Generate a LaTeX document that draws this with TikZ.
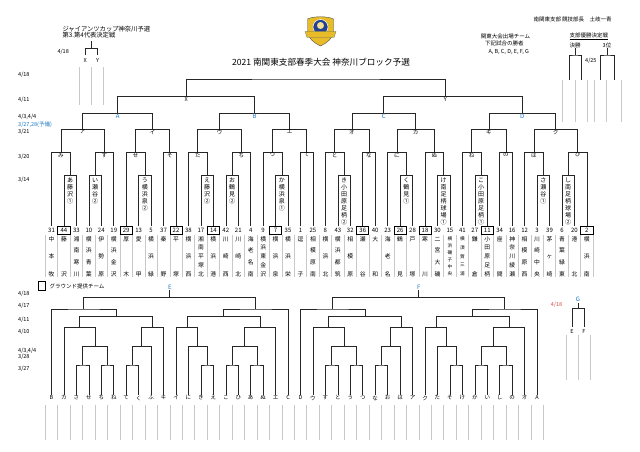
\documentclass[tikz,border=0pt]{standalone}
\usepackage{fontspec}
\setmainfont{Noto Sans CJK JP}
\usetikzlibrary{calc,positioning}

\definecolor{lblue}{RGB}{30,120,195}
\definecolor{lred}{RGB}{215,75,70}
\definecolor{sgray}{RGB}{200,200,200}
\definecolor{emgold}{RGB}{232,188,40}
\definecolor{emblue}{RGB}{35,65,145}

\newcommand\fsz[1]{\fontsize{#1}{#1}\selectfont}
% bracket: [ratio] apex, left end, right end, level
\newcommand\mt[5][.5]{%
\coordinate (#2) at ($(#3)!#1!(#4)$);
\coordinate (#2) at (#2 |- 0,#5);
\draw [brk] (#3) |- (#2) -| (#4);}

\begin{document}
\begin{tikzpicture}[x=1pt,y=-1pt]
\begin{scope}

\tikzstyle{brk} = [draw=black!85,line width=0.6pt];
\tikzstyle{sepline} = [draw=sgray,line width=0.6pt];
\tikzstyle{num} = [font=\fsz{6},inner sep=0pt];
\tikzstyle{numbox} = [draw,line width=0.8pt,minimum width=12.2pt,minimum height=8pt,inner sep=0pt];
\tikzstyle{nm} = [inner sep=0pt];
\tikzstyle{boxtxt} = [font=\fsz{6},inner sep=0pt];
\tikzstyle{kana} = [font=\fsz{5.5},inner sep=0.4pt,anchor=north];
\tikzstyle{grp} = [font=\fsz{6},inner sep=0.5pt,text=lblue];
\tikzstyle{dt} = [font=\fsz{5.5},inner sep=0pt,anchor=west];
\tikzstyle{note} = [font=\fsz{5.5},inner sep=0pt,anchor=west];

\fill [white] (0,0) rectangle (640,452);
\useasboundingbox (0,0) rectangle (640,452);

% emblem
\filldraw [fill=emgold,draw=black!70,line width=0.4pt] (307.5,19) .. controls (314,16) and (327,16) .. (333.5,19) -- (333.5,31) .. controls (333.5,38) and (327,43) .. (320.5,46) .. controls (314,43) and (307.5,38) .. (307.5,31) -- cycle;
\filldraw [fill=emblue,draw=white,line width=0.5pt] (320.5,27) circle [radius=7.5];
\fill [emgold!50!white] (320.5,25.5) circle [radius=3.5];
\filldraw [fill=emgold,draw=black!60,line width=0.3pt] (305,31.5) -- (336,31.5) -- (334,37.5) -- (307,37.5) -- cycle;

% headings
\node [font=\fsz{8.6}] (ttl) at (321,61.7) {2021 南関東支部春季大会 神奈川ブロック予選};
\node [note] (hd) at (533.3,19.3) {南関東支部 競技部長　土岐一青};
\node [note] (kt1) at (480.7,36) {関東大会出場チーム};
\node [note] (kt2) at (485,43.7) {下記試合の勝者};
\node [note] (kt3) at (488.3,52.3) {A, B, C, D, E, F, G};
\node [note] (sb) at (569.3,36.5) {\underline{支部優勝決定戦}};
\node [note,font=\fsz{6.3}] (gc1) at (62.3,29) {ジャイアンツカップ神奈川予選};
\node [note,font=\fsz{6.3}] (gc2) at (62.3,35.6) {第3.第4代表決定戦};

% dates
\node [dt] (d0) at (57.3,52.3) {4/18};
\node [dt] (d1) at (18,75) {4/18};
\node [dt] (d2) at (18,100) {4/11};
\node [dt] (d3) at (18,117.3) {4/3,4/4};
\node [dt,text=lblue] (d4) at (18,124.3) {3/27,28(予備)};
\node [dt] (d5) at (18,132.3) {3/21};
\node [dt] (d6) at (18,156.7) {3/20};
\node [dt] (d7) at (18,180) {3/14};
\node [dt] (d8) at (18,294.3) {4/18};
\node [dt] (d9) at (18,305.7) {4/17};
\node [dt] (d10) at (18,320) {4/11};
\node [dt] (d11) at (18,331.7) {4/10};
\node [dt] (d12) at (18,350.7) {4/3,4/4};
\node [dt] (d13) at (18,356.7) {3/28};
\node [dt] (d14) at (18,369.3) {3/27};

% giants cup
\coordinate (gX) at (85.3,55);
\coordinate (gY) at (97.7,55);
\mt{gJ}{gX}{gY}{48.3}
\coordinate (gJu) at (gJ |- 0,40.7);
\draw [brk] (gJ) -- (gJu);
\node [kana,below=2.5pt] (gXl) at (gX) {X};
\node [kana,below=2.5pt] (gYl) at (gY) {Y};
\foreach \x in {79.3,91.5,103.7}
  \draw [sepline] (\x,66.7) -- (\x,105);

% branch finals
\coordinate (f1) at (569.3,80);
\coordinate (f2) at (581,80);
\mt{fW}{f1}{f2}{55}
\coordinate (fWu) at (fW |- 0,48.3);
\draw [brk] (fW) -- (fWu);
\node [note,anchor=south,inner sep=0.5pt] (fWl) at (fWu) {決勝};
\coordinate (f3) at (600,80);
\coordinate (f4) at (614,80);
\mt{fT}{f3}{f4}{55}
\coordinate (fTu) at (fT |- 0,48.3);
\draw [brk] (fT) -- (fTu);
\node [note,anchor=south,inner sep=0.5pt] (fTl) at (fTu) {3位};
\node [note] (f425) at (585,61) {4/25};
\foreach \x in {562.3,575,587.7,594.3,606.7,621.7}
  \draw [sepline] (\x,80) -- (\x,121.7);

% teams
\foreach \i/\num/\bx/\n/\fs/\nm in {
  0/31/0/3/5.8/{中,本,牧}, 1/44/1/2/5.8/{藤,沢}, 2/33/0/4/5.8/{湘,南,寒,川},
  3/10/0/4/5.8/{横,浜,青,葉}, 4/24/0/3/5.8/{伊,勢,原}, 5/19/0/4/5.8/{横,浜,金,沢},
  6/29/1/2/5.8/{厚,木}, 7/13/0/2/5.8/{愛,甲}, 8/5/0/3/5.8/{横,浜,緑},
  9/37/0/2/5.8/{秦,野}, 10/22/1/2/5.8/{平,塚}, 11/38/0/3/5.8/{横,浜,西},
  12/17/0/5/5.8/{湘,南,平,塚,北}, 13/14/1/3/5.8/{横,浜,港}, 14/42/0/3/5.8/{川,崎,西},
  15/21/0/3/5.8/{川,崎,北}, 16/4/0/4/5.8/{海,老,名,南}, 17/9/0/5/5.8/{横,浜,東,金,沢},
  18/7/1/3/5.8/{横,浜,泉}, 19/35/0/3/5.8/{横,浜,栄}, 20/1/0/2/5.8/{逗,子},
  21/25/0/4/5.8/{相,模,原,南}, 22/8/0/3/5.8/{横,浜,北}, 23/43/0/4/5.8/{横,浜,都,筑},
  24/32/0/3/5.8/{相,模,原}, 25/36/1/2/5.8/{瀬,谷}, 26/40/0/2/5.8/{大,和},
  27/23/0/3/5.8/{海,老,名}, 28/26/1/2/5.8/{鶴,見}, 29/28/0/2/5.8/{戸,塚},
  30/18/1/2/5.8/{寒,川}, 31/30/0/4/5.8/{二,宮,大,磯}, 32/15/0/6/4.6/{横,浜,磯,子,中,央},
  33/41/0/5/4.6/{横,須,賀,三,浦}, 34/27/0/2/5.8/{鎌,倉}, 35/11/1/5/5.8/{小,田,原,足,柄},
  36/34/0/2/5.8/{座,間}, 37/16/0/5/5.8/{神,奈,川,綾,瀬}, 38/12/0/4/5.8/{相,模,原,西},
  39/3/0/4/5.8/{川,崎,中,央}, 40/39/0/3/5.8/{茅,ヶ,崎}, 41/6/0/4/5.8/{青,葉,緑,東},
  42/20/0/2/5.8/{港,北}, 43/2/1/3/5.8/{横,浜,南}}{
  \pgfmathsetmacro\xx{51.5+12.45*\i}
  \coordinate (p\i) at (\xx,226);
  \node [num] (t\i) at (\xx,230) {\num};
  \ifnum\bx=1 \node [numbox] (tb\i) at (t\i) {};\fi
  \foreach \ch [count=\kk] in \nm {
    \pgfmathsetmacro\yy{239+35*(\kk-1)/(\n-1)}
    \node [nm,font=\fsz{\fs}] (t\i n\kk) at (\xx,\yy) {\ch};
  }
}
\foreach \i in {0,...,44}
  \draw [sepline] ({45.3+12.45*\i},235) -- ++(0,42);

% 3/14
\foreach \bn/\lf/\rt/\txt in {
  k1/1/2/{あ,藤,沢,①}, k2/3/4/{い,瀬,谷,②}, k3/7/8/{う,横,浜,泉,②},
  k4/12/13/{え,藤,沢,②}, k5/14/15/{お,鶴,見,②}, k6/18/19/{か,横,浜,泉,①},
  k7/23/24/{き,小,田,原,足,柄,②}, k8/28/29/{く,鶴,見,①},
  k9/31/32/{け,南,足,柄,球,場,①}, k10/34/35/{こ,小,田,原,足,柄,①},
  k11/39/40/{さ,瀬,谷,①}, k12/41/42/{し,南,足,柄,球,場,②}}{
  \mt{\bn}{p\lf}{p\rt}{175.5}
  \foreach \ch [count=\kk] in \txt
    \node [boxtxt] (\bn c\kk) at ($(\bn)+(0,{5+7*(\kk-1)})$) {\ch};
}

% 3/20
\foreach \mm/\lf/\rt/\lb in {r1/p0/k1/み, r2/k2/p5/す, r3/p6/k3/せ, r4/p9/p10/そ,
  r5/p11/k4/た, r6/k5/p16/ち, r7/p17/k6/つ, r8/p20/p21/て, r9/p22/k7/と, r10/p25/p26/な,
  r11/p27/k8/に, r12/p30/k9/ぬ, r13/p33/k10/ね, r14/p36/p37/の, r15/p38/k11/は, r16/k12/p43/ひ}{
  \mt{\mm}{\lf}{\rt}{152.3}
  \node [kana] (\mm l) at (\mm) {\lb};
}

% 3/21
\foreach \mm/\lf/\rt/\lb in {s1/r1/r2/ア, s2/r3/r4/イ, s3/r5/r6/ウ, s4/r7/r8/エ,
  s5/r9/r10/オ, s6/r11/r12/カ, s7/r13/r14/キ, s8/r15/r16/ク}{
  \mt{\mm}{\lf}{\rt}{129.3}
  \node [kana] (\mm l) at (\mm) {\lb};
}

% 4/3,4/4
\foreach \mm/\lf/\rt/\lb in {qA/s1/s2/A, qB/s3/s4/B, qC/s5/s6/C, qD/s7/s8/D}{
  \mt{\mm}{\lf}{\rt}{113.3}
  \node [grp,anchor=north] (\mm l) at (\mm) {\lb};
}

% 4/11, 4/18
\mt{qX}{qA}{qB}{96.7}
\node [kana,inner sep=1pt] (qXl) at (qX) {X};
\mt[.445]{qY}{qC}{qD}{96.7}
\node [kana,inner sep=1pt] (qYl) at (qY) {Y};
\mt{fin}{qX}{qY}{79}

% legend
\node [draw,line width=0.7pt,minimum width=7.4pt,minimum height=9pt,inner sep=0pt] (lgb) at (41.9,286.2) {};
\node [note,right=3.5pt of lgb] (lgt) {グラウンド提供チーム};

% E / F
\foreach \g/\sh/\lst in {E/0/{B,カ,さ,せ,ち,ね,て,く,ふ,キ,イ,に,き,え,こ,ひ,あ,ぬ,エ,C},
  F/20/{D,ウ,す,と,う,つ,な,お,は,ア,ク,た,そ,け,か,い,し,の,オ,A}}{
  \foreach \ch [count=\kk from 0] in \lst {
    \pgfmathsetmacro\xx{51.5+12.45*(\sh+\kk)}
    \coordinate (\g\kk) at (\xx,395);
    \node [kana] (\g l\kk) at (\g\kk) {\ch};
  }
  \mt{\g a}{\g 2}{\g 3}{365}
  \mt{\g b}{\g 4}{\g 5}{365}
  \mt{\g c}{\g 6}{\g 7}{365}
  \mt{\g d}{\g 12}{\g 13}{365}
  \mt{\g e}{\g 14}{\g 15}{365}
  \mt{\g f}{\g 16}{\g 17}{365}
  \mt{\g g}{\g a}{\g b}{346.7}
  \mt{\g h}{\g c}{\g 8}{346.7}
  \mt{\g i}{\g 11}{\g d}{346.7}
  \mt{\g j}{\g e}{\g f}{346.7}
  \mt{\g k}{\g 1}{\g g}{327.7}
  \mt{\g m}{\g h}{\g 9}{327.7}
  \mt{\g n}{\g 10}{\g i}{327.7}
  \mt{\g o}{\g j}{\g 18}{327.7}
  \mt{\g p}{\g k}{\g m}{316.7}
  \mt{\g q}{\g n}{\g o}{316.7}
  \mt{\g r}{\g 0}{\g p}{309}
  \mt{\g s}{\g q}{\g 19}{309}
  \mt{\g t}{\g r}{\g s}{297.3}
  \coordinate (\g u) at (\g t |- 0,290);
  \draw [brk] (\g t) -- (\g u);
  \node [grp,anchor=south] (\g lab) at (\g u) {\g};
}
\foreach \i in {0,...,40}
  \draw [sepline] ({45.3+12.45*\i},405) -- ++(0,35);

% G
\coordinate (gE) at (572,326.7);
\coordinate (gF) at (584,326.7);
\mt{gG}{gE}{gF}{308.3}
\coordinate (gGu) at (gG |- 0,302.7);
\draw [brk] (gG) -- (gGu);
\node [grp,anchor=south] (gGl) at (gGu) {G};
\node [kana,below=2pt] (gEl) at (gE) {E};
\node [kana,below=2pt] (gFl) at (gF) {F};
\node [dt,text=lred] (d15) at (550.7,305) {4/18};
\foreach \x in {566.7,578.3,590.7}
  \draw [sepline] (\x,335) -- (\x,380);

\end{scope}
\end{tikzpicture}
\end{document}
